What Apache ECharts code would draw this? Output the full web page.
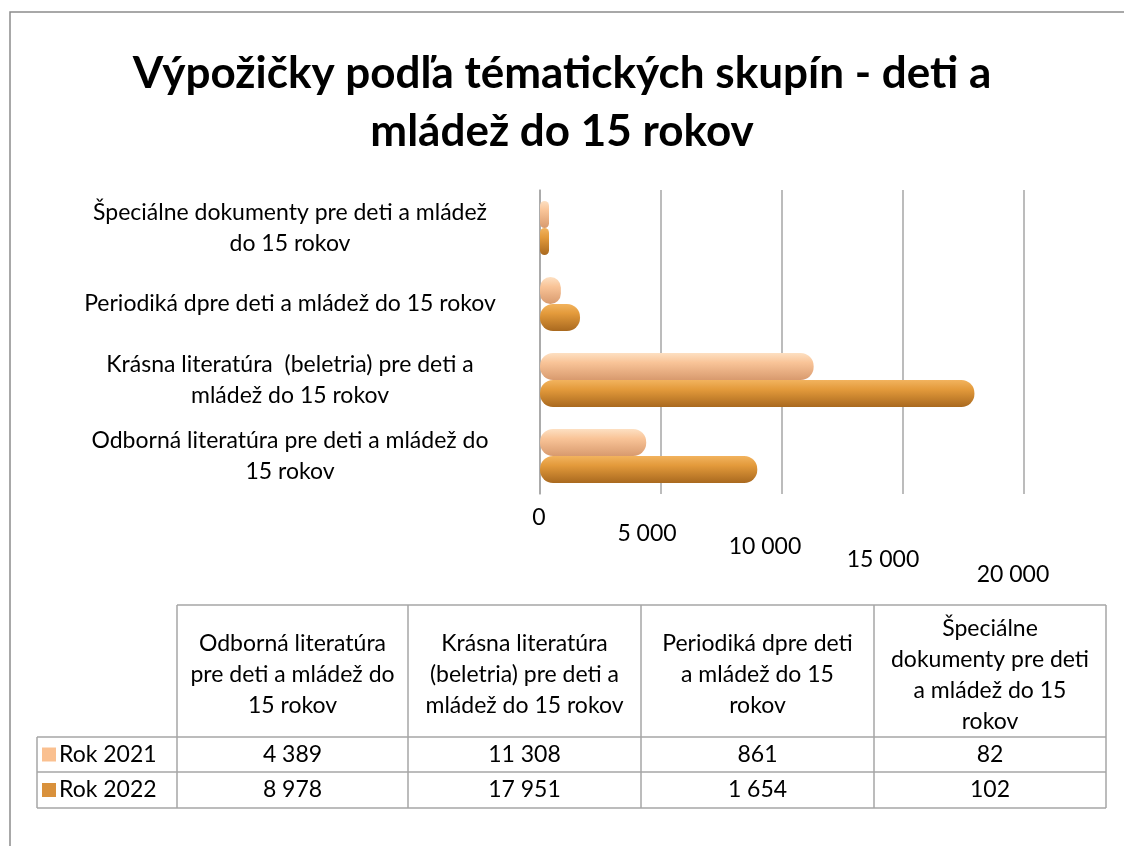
<!DOCTYPE html>
<html>
<head>
<meta charset="utf-8">
<script src="https://cdn.jsdelivr.net/npm/echarts@6/dist/echarts.min.js"></script>
<style>
html,body{margin:0;padding:0;background:#fff;}
#chart{width:1124px;height:846px;}
</style>
</head>
<body>
<div id="chart"></div>
<script>
// ---- data ----
var categories = [
  'Odborná literatúra pre deti a mládež do 15 rokov',
  'Krásna literatúra  (beletria) pre deti a mládež do 15 rokov',
  'Periodiká dpre deti a mládež do 15 rokov',
  'Špeciálne dokumenty pre deti a mládež do 15 rokov'
];
var axisCategoryLabels = [
  'Odborná literatúra pre deti a mládež do\n15 rokov',
  'Krásna literatúra  (beletria) pre deti a\nmládež do 15 rokov',
  'Periodiká dpre deti a mládež do 15 rokov',
  'Špeciálne dokumenty pre deti a mládež\ndo 15 rokov'
];
var tableHeaders = [
  'Odborná literatúra\npre deti a mládež do\n15 rokov',
  'Krásna literatúra\n(beletria) pre deti a\nmládež do 15 rokov',
  'Periodiká dpre deti\na mládež do 15\nrokov',
  'Špeciálne\ndokumenty pre deti\na mládež do 15\nrokov'
];
var seriesNames = ['Rok 2021', 'Rok 2022'];
var values2021 = [4389, 11308, 861, 82];
var values2022 = [8978, 17951, 1654, 102];
var xTicks = [0, 5000, 10000, 15000, 20000];

// ---- styles ----
var FONT = 'Lato, "Open Sans", sans-serif';
var FS = 23;
var lightColor = '#FAC090';
var darkColor = '#D9913C';
var gridColor = '#A6A6A6';

function fmt(v) {
  return String(v).replace(/\B(?=(\d{3})+(?!\d))/g, ' ');
}

var chart = echarts.init(document.getElementById('chart'));

// table graphics
var colX = [37, 177, 408, 641, 874, 1106];
var rowY = [605, 737, 772, 808];
var g = [];
function line(x1, y1, x2, y2) {
  g.push({type: 'line', shape: {x1: x1, y1: y1, x2: x2, y2: y2},
    style: {stroke: gridColor, lineWidth: 1.5}, silent: true});
}
// outer frame
g.push({type: 'polyline', shape: {points: [[10, 846], [10, 12], [1124, 12]]},
  style: {stroke: '#8C8C8C', lineWidth: 1.5, fill: null}, silent: true});
line(colX[1], rowY[0], colX[5], rowY[0]);
line(colX[0], rowY[1], colX[5], rowY[1]);
line(colX[0], rowY[2], colX[5], rowY[2]);
line(colX[0], rowY[3], colX[5], rowY[3]);
line(colX[0], rowY[1], colX[0], rowY[3]);
for (var i = 1; i < colX.length; i++) line(colX[i], rowY[0], colX[i], rowY[3]);
for (var c = 0; c < tableHeaders.length; c++) {
  g.push({type: 'text', silent: true, style: {
    text: tableHeaders[c], x: (colX[c + 1] + colX[c + 2]) / 2, y: (rowY[0] + rowY[1]) / 2 + 4,
    align: 'center', verticalAlign: 'middle', font: FS + 'px ' + FONT, lineHeight: 31, fill: '#000'}});
}
var rows = [values2021, values2022];
var keyColors = [lightColor, darkColor];
for (var r = 0; r < rows.length; r++) {
  var cy = (rowY[r + 1] + rowY[r + 2]) / 2;
  g.push({type: 'rect', silent: true, shape: {x: 42, y: cy - 7, width: 14, height: 14},
    style: {fill: keyColors[r]}});
  g.push({type: 'text', silent: true, style: {text: seriesNames[r], x: 59, y: cy,
    align: 'left', verticalAlign: 'middle', font: FS + 'px ' + FONT, fill: '#000'}});
  for (var c2 = 0; c2 < rows[r].length; c2++) {
    g.push({type: 'text', silent: true, style: {text: fmt(rows[r][c2]),
      x: (colX[c2 + 1] + colX[c2 + 2]) / 2, y: cy, align: 'center', verticalAlign: 'middle',
      font: FS + 'px ' + FONT, fill: '#000'}});
  }
}

function cyl(top, mid, bot) {
  return new echarts.graphic.LinearGradient(0, 0, 0, 1, [
    {offset: 0, color: top}, {offset: 0.35, color: mid}, {offset: 1, color: bot}]);
}

var option = {
  backgroundColor: '#fff',
  animation: false,
  title: {
    text: 'Výpožičky podľa tématických skupín - deti a\nmládež do 15 rokov',
    left: 'center', top: 40,
    textStyle: {fontFamily: FONT, fontWeight: 'bold', fontSize: 44, lineHeight: 58, color: '#000'}
  },
  grid: {left: 540, right: 100, top: 190, bottom: 352, containLabel: false},
  xAxis: {
    type: 'value', min: 0, max: 20000, interval: 5000,
    axisLine: {show: false}, axisTick: {show: false},
    splitLine: {show: true, lineStyle: {color: gridColor, width: 1.5}},
    axisLabel: {
      margin: 12, color: '#000', fontFamily: FONT, fontSize: FS,
      formatter: function (v) {
        var idx = xTicks.indexOf(v);
        return '{p' + idx + '|' + fmt(v) + '}';
      },
      rich: {
        p0: {padding: [0, 2, 0, 0], fontSize: FS, fontFamily: FONT},
        p1: {padding: [16, 28, 0, 0], fontSize: FS, fontFamily: FONT},
        p2: {padding: [29, 34, 0, 0], fontSize: FS, fontFamily: FONT},
        p3: {padding: [42, 40, 0, 0], fontSize: FS, fontFamily: FONT},
        p4: {padding: [57, 22, 0, 0], fontSize: FS, fontFamily: FONT}
      }
    }
  },
  yAxis: {
    type: 'category', data: categories,
    axisLine: {show: true, lineStyle: {color: gridColor, width: 1.5}},
    axisTick: {show: false},
    axisLabel: {
      margin: 250, align: 'center', color: '#000', fontFamily: FONT, fontSize: FS, lineHeight: 31,
      formatter: function (v, i) { return axisCategoryLabels[i]; }
    }
  },
  series: [
    {
      name: seriesNames[0], type: 'bar', data: values2021, barWidth: 27, barGap: '0%', barMinHeight: 9,
      itemStyle: {color: cyl('#FDE0C2', '#F9C498', '#D89A6E'), borderRadius: 13}
    },
    {
      name: seriesNames[1], type: 'bar', data: values2022, barWidth: 27, barMinHeight: 9,
      itemStyle: {color: cyl('#F2B35E', '#E39A3B', '#A9691F'), borderRadius: 13}
    }
  ],
  graphic: g
};
chart.setOption(option);
</script>
</body>
</html>
